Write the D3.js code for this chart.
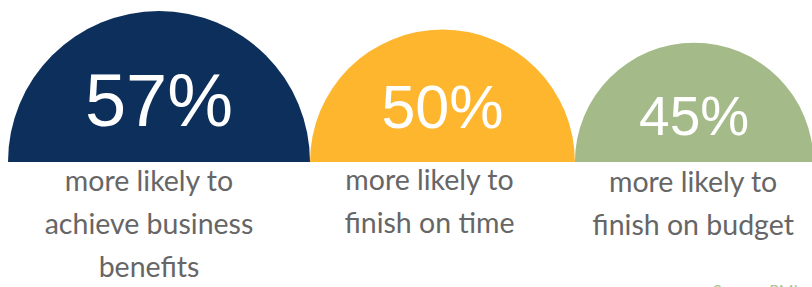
<!DOCTYPE html>
<html>
<head>
<meta charset="utf-8">
<script src="https://cdn.jsdelivr.net/npm/d3@7"></script>
<style>
  html, body { margin: 0; padding: 0; background: #fff; }
  svg { display: block; }
</style>
</head>
<body>
<div id="chart"></div>
<script>
// data
const values = [57, 50, 45];
const valueLabels = ["57%", "50%", "45%"];
const captions = [
  ["more likely to", "achieve business", "benefits"],
  ["more likely to", "finish on time"],
  ["more likely to", "finish on budget"]
];
const source = "Source: PMI";

drawChart();

function drawChart() {
  const width = 812;
  const height = 287;
  const baseY = 162;
  const left = 8;

  const colors = ["#0d2f5b", "#fdb62e", "#a4ba88"];
  const numSize = [74, 61, 55];
  const numLift = [36, 34, 27];
  const capShift = [-10, -13, -1];
  const capTop = [191, 190, 192];

  const svg = d3.select("#chart").append("svg")
    .attr("width", width)
    .attr("height", height);

  // radius goes linear with the value
  const r = d3.scaleLinear().domain([0, 57]).range([0, 151]);

  // place the half circles side by side
  let acc = left;
  const cx = values.map(v => {
    const c = acc + r(v);
    acc += 2 * r(v);
    return c;
  });

  const arc = d3.arc()
    .innerRadius(0)
    .outerRadius(d => r(d))
    .startAngle(-Math.PI / 2)
    .endAngle(Math.PI / 2);

  const g = svg.selectAll(".half")
    .data(values)
    .join("g")
    .attr("class", "half")
    .attr("transform", (d, i) => "translate(" + cx[i] + "," + baseY + ")");

  g.append("path")
    .attr("d", d => arc(d))
    .attr("fill", (d, i) => colors[i]);

  g.append("text")
    .attr("text-anchor", "middle")
    .attr("y", (d, i) => -numLift[i])
    .attr("font-family", "'Liberation Sans', Arial, sans-serif")
    .attr("font-size", (d, i) => numSize[i])
    .attr("fill", "#fff")
    .text((d, i) => valueLabels[i]);

  // captions under each half
  const cap = svg.selectAll(".cap")
    .data(captions)
    .join("text")
    .attr("class", "cap")
    .attr("text-anchor", "middle")
    .attr("font-family", "Lato, sans-serif")
    .attr("font-size", 28.5)
    .attr("fill", "#666666");

  cap.selectAll("tspan")
    .data((d, i) => d.map(t => ({ t: t, i: i })))
    .join("tspan")
    .attr("x", d => cx[d.i] + capShift[d.i])
    .attr("y", (d, j) => capTop[d.i] + j * 43)
    .text(d => d.t);

  svg.append("text")
    .attr("x", 713)
    .attr("y", 296)
    .attr("font-family", "Lato, sans-serif")
    .attr("font-size", 16)
    .attr("fill", "#a9c894")
    .text(source);
}
</script>
</body>
</html>
